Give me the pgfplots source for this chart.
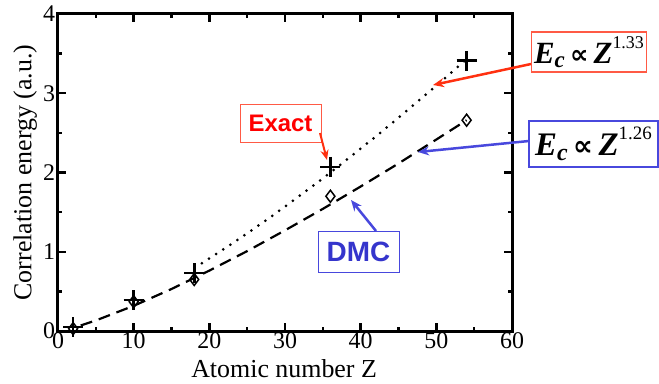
\documentclass[border=0pt]{standalone}
\usepackage{pgfplots}
\pgfplotsset{compat=1.18}
\usetikzlibrary{arrows.meta}
\usepackage{fontspec}
\setmainfont{Liberation Serif}
\newfontfamily\arial{Liberation Sans}
\newfontfamily\sym{DejaVu Sans}
\definecolor{exred}{HTML}{FF0000}
\definecolor{exborder}{HTML}{FF5A45}
\definecolor{exarrow}{HTML}{FF3010}
\definecolor{dmcblue}{HTML}{3535CC}
\definecolor{dmcborder}{HTML}{4848DD}
\begin{document}
\begin{tikzpicture}[x=1bp,y=1bp]
\path[use as bounding box] (-58,-52) rectangle (601,331);
\begin{axis}[
  at={(0,0)}, anchor=south west,
  scale only axis, width=454bp, height=317bp,
  line width=3bp,
  xmin=0, xmax=60, ymin=0, ymax=4,
  xtick={0,10,...,60}, ytick={0,1,2,3,4},
  minor x tick num=1, minor y tick num=1,
  tick align=inside,
  major tick length=8bp, minor tick length=4bp,
  tick style={black, line width=2.5bp},
  axis line style={line width=3bp},
  /pgf/number format/assume math mode=true,
  ticklabel style={font=\fontsize{24}{24}\selectfont},
  xticklabel style={inner sep=0.5bp},
  yticklabel style={inner sep=1.5bp},
  xlabel={Atomic number Z},
  ylabel={Correlation energy (a.u.)},
  label style={font=\fontsize{26}{26}\selectfont},
  xlabel style={at={(axis description cs:0.498,-0.147)}, anchor=base},
  ylabel style={at={(axis description cs:-0.072,0.5)}, anchor=center},
  clip=false,
]
% DMC fit ~ Z^1.26
\addplot[black, line width=2.2bp, dash pattern=on 12bp off 7bp] coordinates {
(3,0.070) (5,0.133) (10,0.318) (15,0.530) (20,0.762) (25,1.008) (30,1.270)
(35,1.541) (40,1.823) (45,2.114) (50,2.416) (54,2.660)};
% Exact fit ~ Z^1.33
\addplot[black, line width=3bp, line cap=round, dash pattern=on 0bp off 8.5bp] coordinates {
(19,0.855) (22,1.039) (25,1.232) (28,1.432) (31,1.640) (34,1.853) (37,2.074)
(40,2.301) (43,2.533) (46,2.771) (49,3.014) (52,3.262) (54,3.430)};
% DMC
\addplot[only marks, mark=diamond, mark size=6bp, mark options={black, line width=1.5bp}] coordinates {
(2,0.03) (10,0.37) (18,0.65) (36,1.70) (54,2.66)};
% Exact
\addplot[only marks, mark=+, mark size=10bp, mark options={black, line width=2.6bp}] coordinates {
(2,0.05) (10,0.39) (18,0.73) (36,2.07) (54,3.41)};
\end{axis}
% annotations
\node[draw=exborder, line width=1bp, fill=white, minimum width=81bp, minimum height=38bp, inner sep=0pt,
  text=exred, font=\arial\bfseries\fontsize{24}{24}\selectfont] at (222.5,208) {Exact};
\draw[exarrow, line width=2bp, -{Stealth[length=10bp,width=8bp]}] (262,198) -- (269,171);
\node[draw=dmcborder, line width=1bp, fill=white, minimum width=81bp, minimum height=41bp, inner sep=0pt,
  text=dmcblue, font=\arial\bfseries\fontsize{28}{28}\selectfont] at (300.5,79.5) {DMC};
\draw[dmcborder, line width=2.5bp, -{Stealth[length=11bp,width=9bp]}] (318,100) -- (293,131);
\node[draw=exborder, line width=1.3bp, fill=white, minimum width=115bp, minimum height=40bp, inner sep=0pt]
  at (531,279) {\fontsize{31}{31}\selectfont\bfseries\itshape E\raisebox{-0.3ex}{\fontsize{23}{23}\selectfont c}\,{\sym\fontsize{26}{26}\selectfont ∝}\,Z\raisebox{1.05ex}{\normalfont\fontsize{18}{18}\selectfont 1.33}};
\draw[exarrow, line width=2.5bp, -{Stealth[length=11bp,width=9bp]}] (473,267) -- (375,246);
\node[draw=dmcborder, line width=1.5bp, fill=white, minimum width=129bp, minimum height=46bp, inner sep=0pt]
  at (535.5,187) {\fontsize{33}{33}\selectfont\bfseries\itshape E\raisebox{-0.3ex}{\fontsize{24}{24}\selectfont c}\,{\sym\fontsize{28}{28}\selectfont ∝}\,Z\raisebox{1.05ex}{\normalfont\fontsize{19}{19}\selectfont 1.26}};
\draw[dmcborder, line width=2.5bp, -{Stealth[length=11bp,width=9bp]}] (471,190) -- (360,179);
\end{tikzpicture}
\end{document}
